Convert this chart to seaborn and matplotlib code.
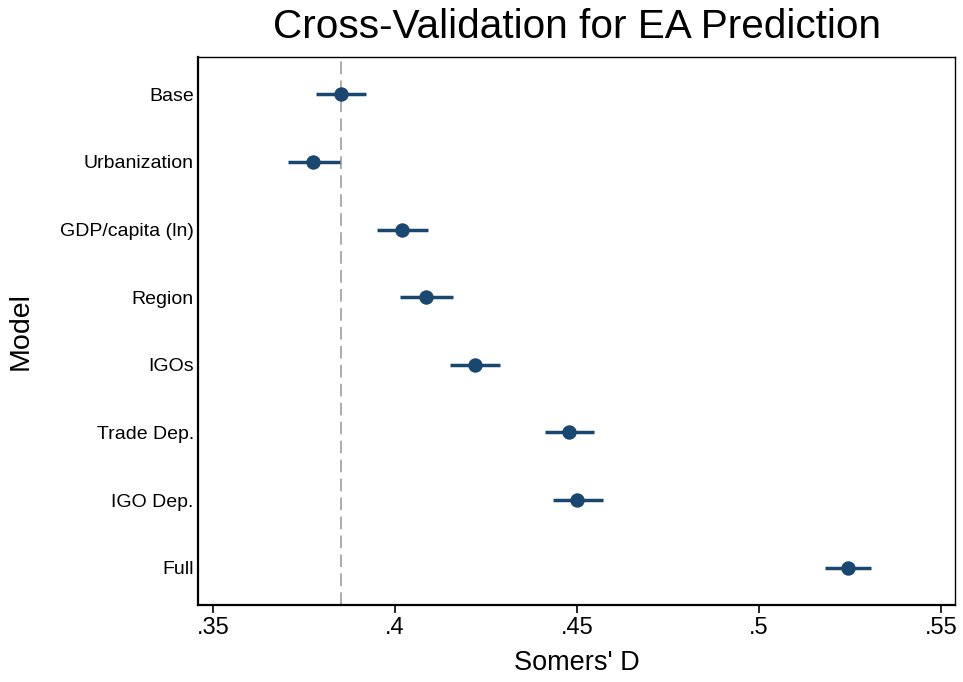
import matplotlib
matplotlib.use("Agg")
import matplotlib.pyplot as plt
import seaborn as sns
import pandas as pd

models = ["Base", "Urbanization", "GDP/capita (ln)", "Region", "IGOs",
          "Trade Dep.", "IGO Dep.", "Full"]
estimate = [0.3852, 0.3775, 0.4019, 0.4085, 0.4220, 0.4478, 0.4500, 0.5245]
ci_low = [0.3783, 0.3706, 0.3951, 0.4014, 0.4151, 0.4412, 0.4434, 0.5181]
ci_high = [0.3920, 0.3849, 0.4091, 0.4159, 0.4288, 0.4547, 0.4571, 0.5308]
ref_value = 0.3852
xticks = [0.35, 0.40, 0.45, 0.50, 0.55]
xtick_labels = [".35", ".4", ".45", ".5", ".55"]

df = pd.DataFrame({"Model": models, "D": estimate, "lo": ci_low, "hi": ci_high})

sns.set_theme(style="white")
plt.rcParams["font.family"] = ["Liberation Sans", "DejaVu Sans"]
plt.rcParams["text.color"] = "black"
plt.rcParams["axes.labelcolor"] = "black"
plt.rcParams["xtick.color"] = "black"
plt.rcParams["ytick.color"] = "black"

fig = plt.figure(figsize=(9.63, 6.82), dpi=100)
ax = fig.add_axes([198 / 963, 1 - 605 / 682, (955 - 198) / 963, (605 - 57) / 682])

color = "#1a476f"
ax.axvline(ref_value, color="#a6a6a6", lw=1.3, ls=(0, (7, 3.5)), zorder=1)
ax.hlines(df["Model"], df["lo"], df["hi"], color=color, lw=2.5, zorder=2)
sns.scatterplot(data=df, x="D", y="Model", ax=ax, color=color, s=108,
                edgecolor=color, linewidth=0, zorder=3)

ax.set_xlim(0.3459, 0.5538)
ax.set_ylim(len(models) - 0.45, -0.55)
ax.set_xticks(xticks)
ax.set_xticklabels(xtick_labels, fontsize=17)
ax.tick_params(axis="x", length=6, width=1.2, direction="out", bottom=True, pad=3)
ax.tick_params(axis="y", length=0, labelsize=14, pad=3)
for s in ax.spines.values():
    s.set_color("black")
    s.set_linewidth(1.0)
ax.spines["bottom"].set_linewidth(1.6)
ax.spines["left"].set_linewidth(1.6)

ax.set_xlabel("Somers' D", fontsize=19.5)
ax.set_ylabel("Model", fontsize=20.5)
ax.yaxis.set_label_coords((34 - 198) / 757, 0.5)
ax.xaxis.set_label_coords(0.5, -(650 - 605) / 548)
fig.text((198 + 955) / 2 / 963, 1 - 37.5 / 682, "Cross-Validation for EA Prediction",
         ha="center", va="baseline", fontsize=29.2)

fig.savefig("out.png", dpi=100, facecolor="white")
